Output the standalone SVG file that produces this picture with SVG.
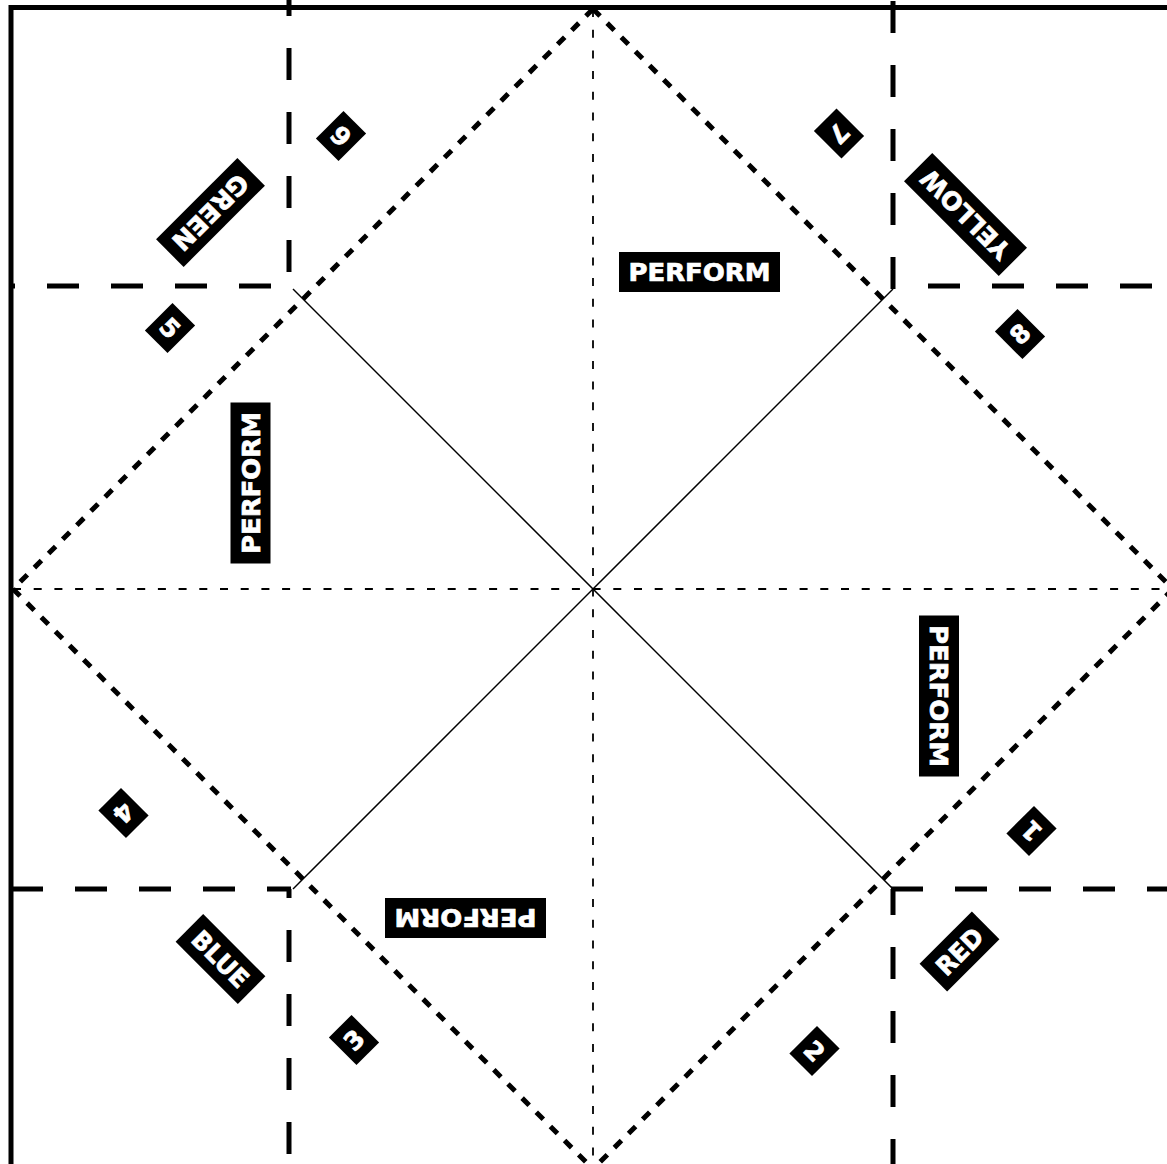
<svg xmlns="http://www.w3.org/2000/svg" width="1167" height="1164" viewBox="0 0 1167 1164">
<style>
.border{fill:none;stroke:#000;stroke-width:5;stroke-linejoin:miter}
.grid{stroke:#000;stroke-width:5;stroke-dasharray:32 32;fill:none}
.edge{stroke:#000;stroke-width:5;stroke-dasharray:10 10;fill:none}
.axis{stroke:#000;stroke-width:1.8;stroke-dasharray:8 12.7;fill:none}
.diag{stroke:#000;stroke-width:1.5;fill:none}
.box{fill:#000}
.lbl{fill:#fff;stroke:#fff;stroke-width:0.7;font-family:"DejaVu Sans","Open Sans",sans-serif;font-weight:bold;font-size:25px;text-anchor:middle}
</style>
<rect x="0" y="0" width="1167" height="1164" fill="#fff"/>
<g id="connectors">
  <path class="border" d="M11,1170 V7.5 H1170"/>
  <line class="axis" x1="593" y1="9" x2="593" y2="1164"/>
  <line class="axis" x1="13" y1="589" x2="1167" y2="589"/>
  <line class="diag" x1="293" y1="289" x2="893" y2="889"/>
  <line class="diag" x1="893" y1="289" x2="293" y2="889"/>
  <line class="edge" x1="593" y1="9" x2="13" y2="589"/>
  <line class="edge" x1="593" y1="9" x2="1173" y2="589"/>
  <line class="edge" x1="13" y1="589" x2="593" y2="1169"/>
  <line class="edge" x1="1173" y1="589" x2="593" y2="1169"/>
  <line class="grid" x1="289" y1="-16" x2="289" y2="272"/>
  <line class="grid" x1="9" y1="286" x2="271" y2="286" stroke-dashoffset="26"/>
  <line class="grid" x1="893" y1="1" x2="893" y2="289"/>
  <line class="grid" x1="928" y1="286" x2="1167" y2="286"/>
  <line class="grid" x1="891" y1="889" x2="1167" y2="889"/>
  <line class="grid" x1="893" y1="889" x2="893" y2="1164" stroke-dashoffset="6"/>
  <line class="grid" x1="11" y1="889" x2="291" y2="889"/>
  <line class="grid" x1="289" y1="889" x2="289" y2="1164" stroke-dashoffset="23"/>
</g>
<g id="perform-top" transform="translate(699.5,272)"><rect class="box" x="-80.5" y="-20" width="161" height="40"/><text class="lbl" x="0" y="9" textLength="142" lengthAdjust="spacingAndGlyphs">PERFORM</text></g>
<g id="perform-left" transform="translate(250.5,483) rotate(-90)"><rect class="box" x="-80.5" y="-20" width="161" height="40"/><text class="lbl" x="0" y="9" textLength="142" lengthAdjust="spacingAndGlyphs">PERFORM</text></g>
<g id="perform-right" transform="translate(939,696) rotate(90)"><rect class="box" x="-80.5" y="-20" width="161" height="40"/><text class="lbl" x="0" y="9" textLength="142" lengthAdjust="spacingAndGlyphs">PERFORM</text></g>
<g id="perform-bottom" transform="translate(465.5,918) rotate(180)"><rect class="box" x="-80.5" y="-20" width="161" height="40"/><text class="lbl" x="0" y="9" textLength="142" lengthAdjust="spacingAndGlyphs">PERFORM</text></g>
<g id="green" transform="translate(210.5,212.5) rotate(135)"><rect class="box" x="-57.5" y="-19.5" width="115" height="39"/><text class="lbl" x="0" y="9" textLength="96" lengthAdjust="spacingAndGlyphs">GREEN</text></g>
<g id="yellow" transform="translate(965.5,214.5) rotate(225)"><rect class="box" x="-67" y="-20" width="134" height="40"/><text class="lbl" x="0" y="9" textLength="115" lengthAdjust="spacingAndGlyphs">YELLOW</text></g>
<g id="red" transform="translate(959.5,951.5) rotate(-45)"><rect class="box" x="-37" y="-19.5" width="74" height="39"/><text class="lbl" x="0" y="9" textLength="55" lengthAdjust="spacingAndGlyphs">RED</text></g>
<g id="blue" transform="translate(220.5,959) rotate(45)"><rect class="box" x="-44" y="-19.5" width="88" height="39"/><text class="lbl" x="0" y="9" textLength="69" lengthAdjust="spacingAndGlyphs">BLUE</text></g>
<g id="n1" transform="translate(1031.5,831) rotate(225)"><rect class="box" x="-16" y="-19.5" width="32" height="39"/><text class="lbl" x="0" y="9">1</text></g>
<g id="n2" transform="translate(814.5,1051) rotate(45)"><rect class="box" x="-16" y="-19.5" width="32" height="39"/><text class="lbl" x="0" y="9">2</text></g>
<g id="n3" transform="translate(354,1040) rotate(315)"><rect class="box" x="-16" y="-19.5" width="32" height="39"/><text class="lbl" x="0" y="9">3</text></g>
<g id="n4" transform="translate(123.5,813) rotate(135)"><rect class="box" x="-16" y="-19.5" width="32" height="39"/><text class="lbl" x="0" y="9">4</text></g>
<g id="n5" transform="translate(170,328) rotate(45)"><rect class="box" x="-16" y="-19.5" width="32" height="39"/><text class="lbl" x="0" y="9">5</text></g>
<g id="n6" transform="translate(341,136) rotate(225)"><rect class="box" x="-16" y="-19.5" width="32" height="39"/><text class="lbl" x="0" y="9">6</text></g>
<g id="n7" transform="translate(839,133.5) rotate(135)"><rect class="box" x="-16" y="-19.5" width="32" height="39"/><text class="lbl" x="0" y="9">7</text></g>
<g id="n8" transform="translate(1020,334) rotate(315)"><rect class="box" x="-16" y="-19.5" width="32" height="39"/><text class="lbl" x="0" y="9">8</text></g>
</svg>
